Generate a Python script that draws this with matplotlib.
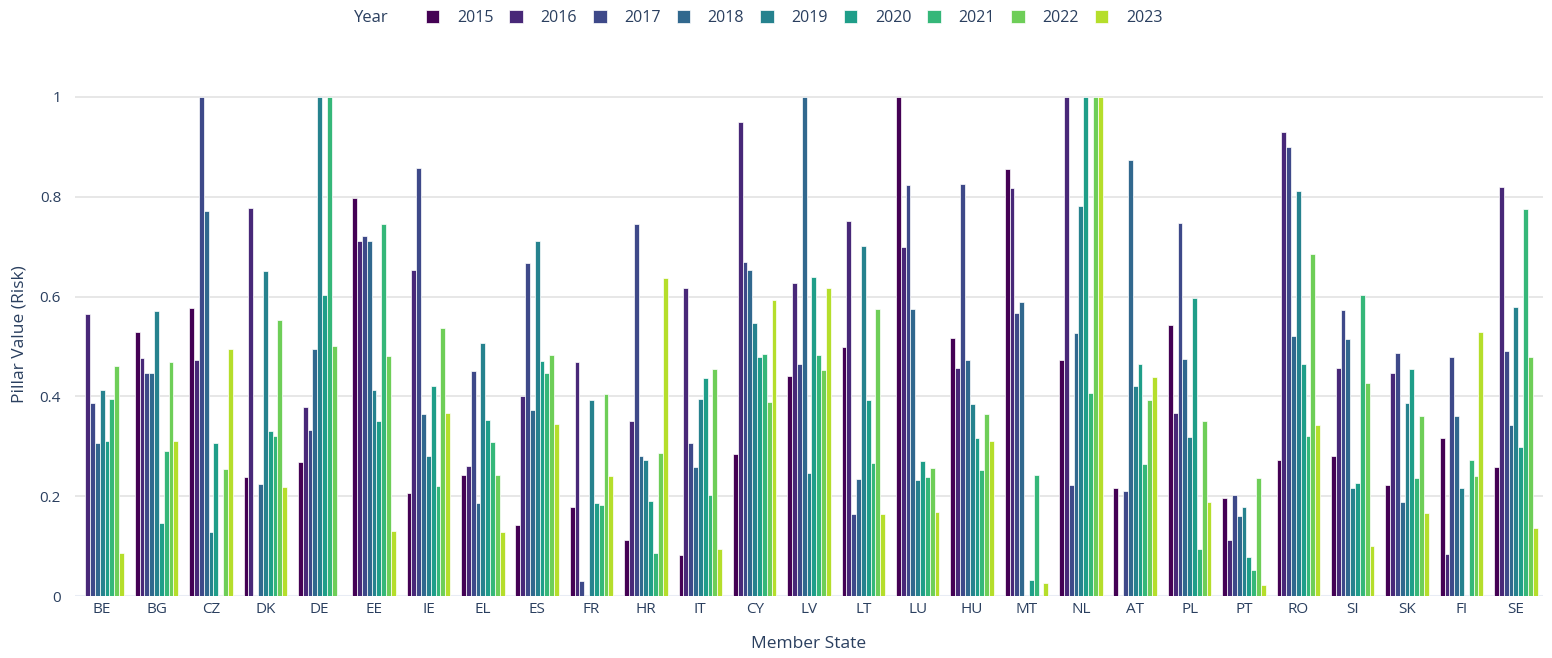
import numpy as np
import matplotlib
matplotlib.use("Agg")
import matplotlib.pyplot as plt
from matplotlib.patches import Patch

plt.rcParams['font.family'] = ['Open Sans', 'DejaVu Sans']

countries = ["BE", "BG", "CZ", "DK", "DE", "EE", "IE", "EL", "ES", "FR", "HR", "IT", "CY", "LV",
             "LT", "LU", "HU", "MT", "NL", "AT", "PL", "PT", "RO", "SI", "SK", "FI", "SE"]
years = ["2015", "2016", "2017", "2018", "2019", "2020", "2021", "2022", "2023"]

v2015 = [None, 0.530, 0.578, 0.238, 0.269, 0.797, 0.206, 0.243, 0.142, 0.179, 0.113, 0.082, 0.285, 0.441,
         0.499, 1.000, 0.517, 0.855, 0.472, 0.216, 0.544, 0.196, 0.273, 0.280, 0.222, 0.317, 0.258]
v2016 = [0.565, 0.477, 0.472, 0.778, 0.378, 0.712, 0.653, 0.260, 0.400, 0.468, 0.350, 0.618, 0.950, 0.628,
         0.752, 0.700, 0.457, 0.817, 1.000, None, 0.366, 0.112, 0.929, 0.457, 0.447, 0.085, 0.820]
v2017 = [0.386, 0.447, 1.000, None, 0.332, 0.721, 0.857, 0.451, 0.668, 0.030, 0.745, 0.307, 0.670, 0.464,
         0.165, 0.823, 0.825, 0.568, 0.222, 0.211, 0.747, 0.203, 0.900, 0.574, 0.487, 0.478, 0.491]
v2018 = [0.307, 0.447, 0.772, 0.224, 0.494, 0.711, 0.364, 0.186, 0.373, None, 0.280, 0.258, 0.653, 1.000,
         0.234, 0.576, 0.472, 0.589, 0.527, 0.873, 0.474, 0.161, 0.521, 0.514, 0.188, 0.360, 0.342]
v2019 = [0.412, 0.571, 0.129, 0.652, 1.000, 0.412, 0.281, 0.506, 0.712, 0.392, 0.273, 0.394, 0.547, 0.246,
         0.702, 0.233, 0.385, None, 0.782, 0.420, 0.319, 0.179, 0.812, 0.216, 0.386, 0.216, 0.579]
v2020 = [0.310, 0.147, 0.306, 0.330, 0.603, 0.350, 0.420, 0.353, 0.470, 0.186, 0.191, 0.437, 0.479, 0.640,
         0.392, 0.271, 0.317, 0.033, 1.000, 0.464, 0.598, 0.079, 0.465, 0.226, 0.455, None, 0.298]
v2021 = [0.395, 0.290, None, 0.321, 1.000, 0.745, 0.220, 0.309, 0.447, 0.183, 0.087, 0.202, 0.484, 0.482,
         0.267, 0.239, 0.253, 0.243, 0.407, 0.265, 0.094, 0.052, 0.321, 0.603, 0.236, 0.273, 0.776]
v2022 = [0.461, 0.469, 0.254, 0.554, 0.500, 0.481, 0.537, 0.242, 0.482, 0.405, 0.286, 0.454, 0.388, 0.453,
         0.575, 0.257, 0.364, None, 1.000, 0.393, 0.350, 0.236, 0.685, 0.427, 0.360, 0.240, 0.478]
v2023 = [0.087, 0.311, 0.494, 0.218, None, 0.131, 0.366, 0.129, 0.345, 0.241, 0.638, 0.094, 0.594, 0.618,
         0.164, 0.169, 0.311, 0.027, 1.000, 0.439, 0.188, 0.023, 0.342, 0.100, 0.167, 0.529, 0.136]

series = [v2015, v2016, v2017, v2018, v2019, v2020, v2021, v2022, v2023]
colors = ['#440154', '#482878', '#3e4989', '#31688e', '#26828e', '#1f9e89', '#35b779', '#6ece58', '#b5de2b']

W, H = 1552, 658
fig = plt.figure(figsize=(W / 100, H / 100), dpi=100)
ax = fig.add_axes([75 / W, 1 - 596 / H, (1543 - 75) / W, (596 - 72) / H])

text_color = '#2a3f5f'
x = np.arange(len(countries))
n = len(years)
bw = 0.8 / n
for i, (yr, vals, c) in enumerate(zip(years, series, colors)):
    h = np.array([np.nan if v is None else v for v in vals], dtype=float)
    ax.bar(x + (i - (n - 1) / 2) * bw, h, width=bw, color=c, edgecolor='white',
           linewidth=0.5, label=yr, zorder=3)

ax.set_xlim(-0.5, len(countries) - 0.5)
ax.set_ylim(0, 1.05)
ax.set_yticks([0, 0.2, 0.4, 0.6, 0.8, 1.0])
ax.set_yticklabels(["0", "0.2", "0.4", "0.6", "0.8", "1"])
ax.set_xticks(x)
ax.set_xticklabels(countries)
ax.tick_params(axis='both', length=0, labelsize=11, colors=text_color)
ax.tick_params(axis='y', pad=10)
ax.tick_params(axis='x', pad=4)
ax.grid(axis='y', color='#E3E3E3', linewidth=1.2, zorder=0)
ax.axhline(0, color='#E8ECF4', linewidth=1.5, zorder=2)
for s in ax.spines.values():
    s.set_visible(False)

ax.set_xlabel("Member State", fontsize=12.5, color=text_color, labelpad=14)
ax.set_ylabel("Pillar Value (Risk)", fontsize=12.5, color=text_color, labelpad=9)

handles = [Patch(facecolor=c, edgecolor='white', linewidth=0.5) for c in colors]
fig.legend(handles, years, ncol=n, loc='center', bbox_to_anchor=(794 / W, 1 - 18 / H),
           frameon=False, fontsize=11.5, labelcolor=text_color, handlelength=0.85,
           handleheight=0.85, handletextpad=1.1, columnspacing=1.0)
fig.text(354 / W, 1 - 18 / H, "Year", fontsize=12, color=text_color, va='center', ha='left')

fig.savefig("out.png", dpi=100)
